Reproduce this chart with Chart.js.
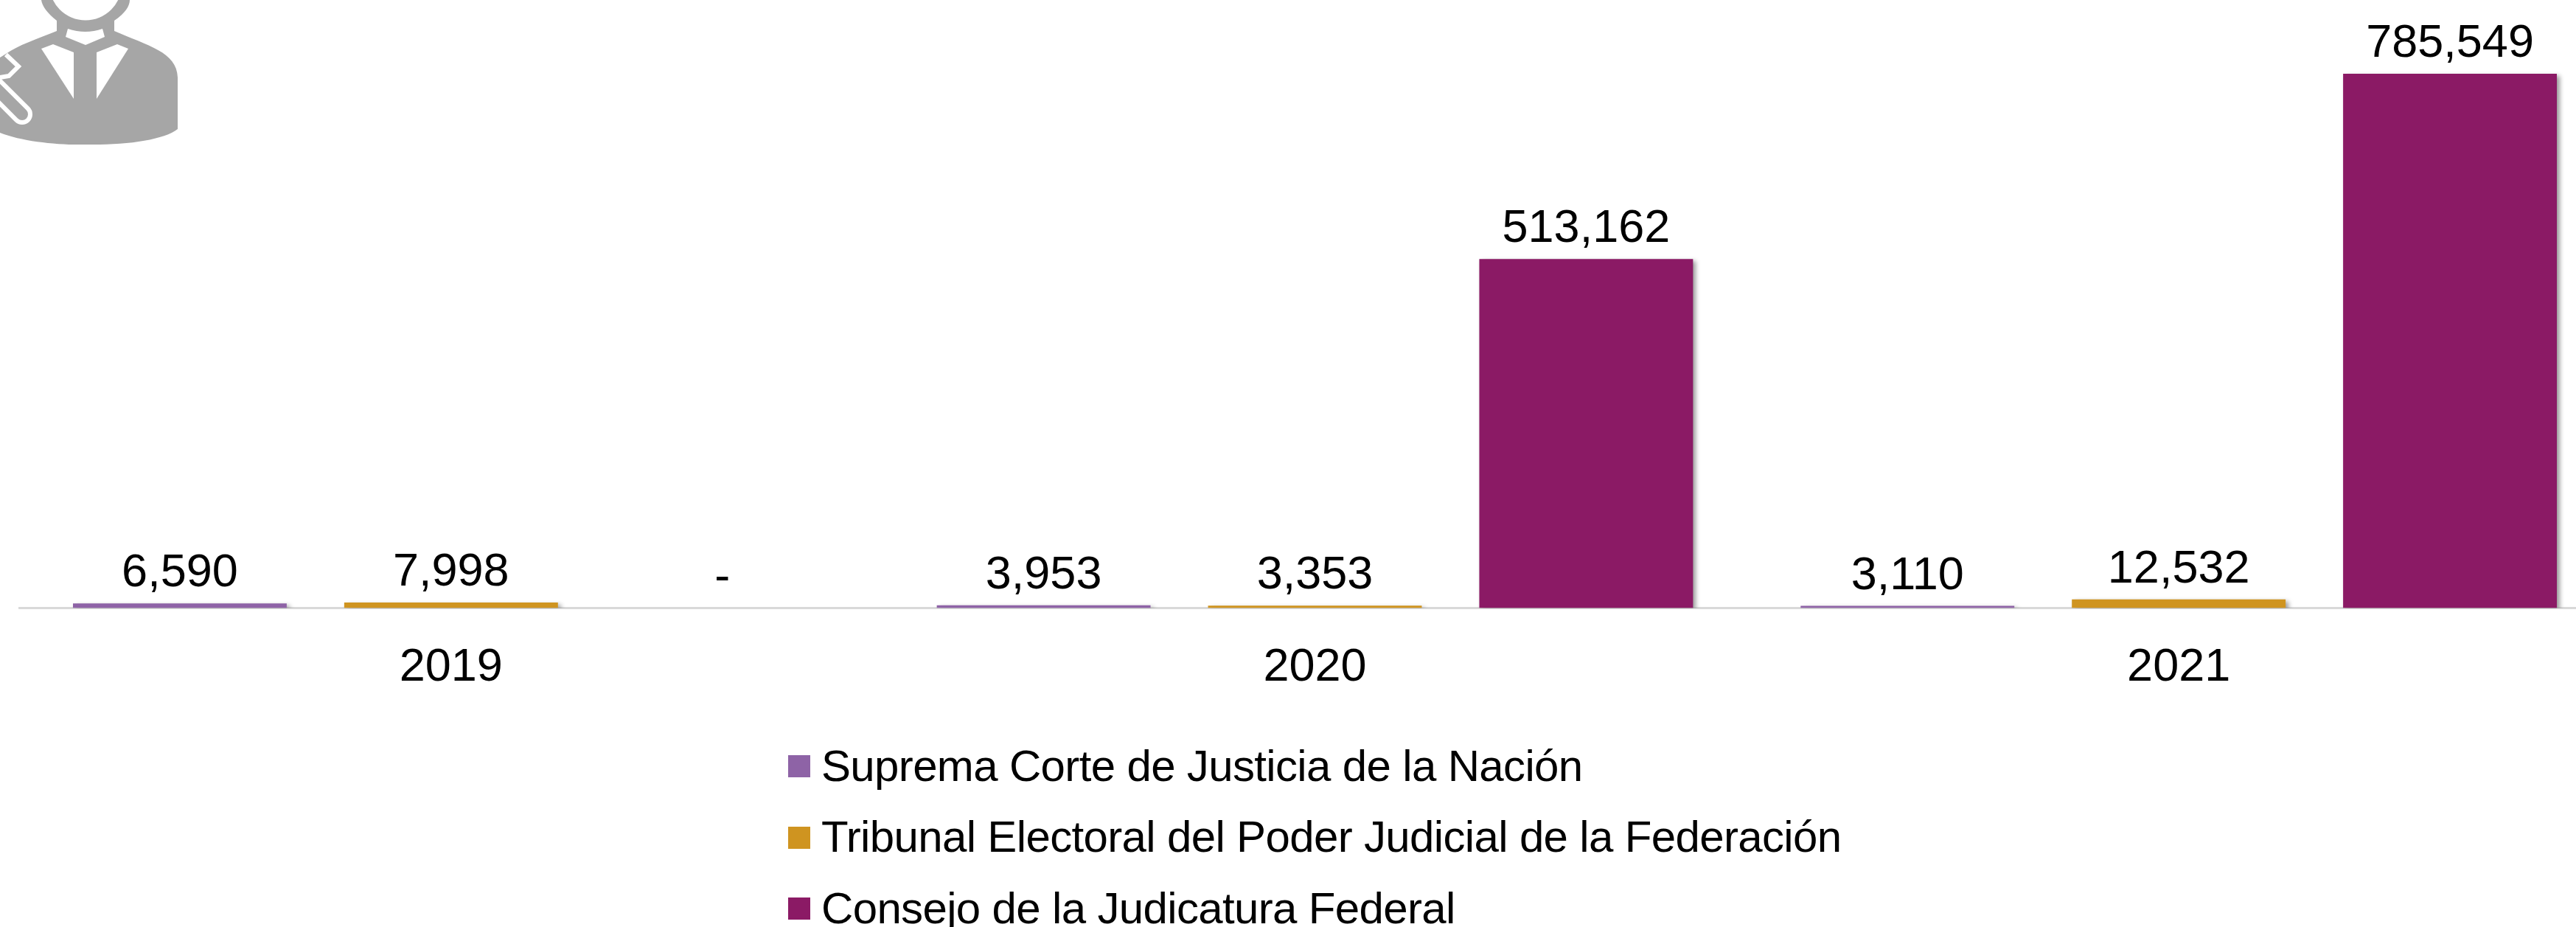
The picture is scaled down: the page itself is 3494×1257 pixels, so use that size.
<!DOCTYPE html>
<html>
<head>
<meta charset="utf-8">
<style>
    html, body { margin: 0; padding: 0; background: #fff; }
    #wrap { position: relative; width: 3494px; height: 1257px; overflow: hidden; font-family: "Liberation Sans", Arial, sans-serif; }
    /* the reference cuts off the right edge of the last category, so the canvas runs past the window */
    #chartBox { position: absolute; left: 0; top: 0; width: 3541px; height: 1257px; }
    #icon { position: absolute; left: 0; top: 0; }
    #legend { position: absolute; left: 1069px; top: 991px; }
    .item { display: flex; align-items: center; height: 96.5px; font-size: 60px; letter-spacing: -0.65px; color: #000; white-space: nowrap; }
    .item i { display: block; width: 30px; height: 30px; margin-right: 15px; }
    .item span { position: relative; top: -1px; }
</style>
</head>
<body>
<div id="wrap">
    <div id="chartBox"><canvas id="myChart" width="3541" height="1257"></canvas></div>
    <svg id="icon" width="260" height="210" viewBox="0 0 260 210">
        <path fill="#a6a6a6" d="M77 28 L77 42 C50 53 25 61 8 73 L0 78 L0 180 C30 192 80 197 116 196 C170 197 222 190 241 175 L241 105 C240 70 200 62 155 42 L155 28 C170 18 176 8 176 0 L56 0 C57 8 64 18 77 28 Z"/>
        <circle cx="116" cy="-22" r="49.4" fill="#fff"/>
        <path fill="#fff" d="M92 39 Q116 47 139 39 L142 50 L116 61 L89 50 Z"/>
        <path fill="#fff" d="M56 66 L72 60 L100 71 L100 134 Z"/>
        <path fill="#fff" d="M174 66 L159 60 L131 71 L131 134 Z"/>
        <path fill="none" stroke="#fff" stroke-width="6" d="M8 74 L25 90 L12 103 L0 105"/>
        <path fill="none" stroke="#fff" stroke-width="28" stroke-linecap="round" d="M-10 115 L30 155"/>
        <path fill="none" stroke="#a6a6a6" stroke-width="16" stroke-linecap="round" d="M-10 115 L30 155"/>
    </svg>
    <div id="legend"></div>
</div>
<script src="https://cdn.jsdelivr.net/npm/chart.js@4"></script>
<script>
const years = ['2019', '2020', '2021'];
const suprema = [6590, 3953, 3110];
const tribunal = [7998, 3353, 12532];
const consejo = [0, 513162, 785549];
const seriesNames = [
    'Suprema Corte de Justicia de la Nación',
    'Tribunal Electoral del Poder Judicial de la Federación',
    'Consejo de la Judicatura Federal'
];
const seriesColors = ['#8e63a6', '#cf9420', '#8b1a65'];

const fontName = '"Liberation Sans", Arial, sans-serif';

// soft shadow behind the bars, like the original
const barShadow = {
    id: 'barShadow',
    beforeDatasetsDraw(chart) {
        const ctx = chart.ctx;
        ctx.save();
        ctx.shadowColor = 'rgba(0, 0, 0, 0.4)';
        ctx.shadowBlur = 6;
        ctx.shadowOffsetX = 4;
        ctx.shadowOffsetY = 3;
    },
    afterDatasetsDraw(chart) {
        chart.ctx.restore();
    }
};

// value above each bar, zero shows as a dash
const valueLabels = {
    id: 'valueLabels',
    afterDraw(chart) {
        const ctx = chart.ctx;
        ctx.save();
        ctx.font = '63px ' + fontName;
        ctx.fillStyle = '#000';
        ctx.textAlign = 'center';
        ctx.textBaseline = 'alphabetic';
        chart.data.datasets.forEach(function (ds, i) {
            chart.getDatasetMeta(i).data.forEach(function (bar, j) {
                const v = ds.data[j];
                const text = v === 0 ? '-' : v.toLocaleString('en-US');
                ctx.fillText(text, bar.x, bar.y - 23);
            });
        });
        ctx.restore();
    }
};

const ctx = document.getElementById('myChart').getContext('2d');
const chart = new Chart(ctx, {
    type: 'bar',
    data: {
        labels: years,
        datasets: [
            { label: seriesNames[0], data: suprema, backgroundColor: seriesColors[0] },
            { label: seriesNames[1], data: tribunal, backgroundColor: seriesColors[1] },
            { label: seriesNames[2], data: consejo, backgroundColor: seriesColors[2] }
        ]
    },
    options: {
        responsive: false,
        animation: false,
        layout: { padding: { left: 26, right: 0, top: 40.6, bottom: 279 } },
        datasets: { bar: { categoryPercentage: 0.942, barPercentage: 0.788 } },
        plugins: {
            legend: { display: false },
            tooltip: { enabled: false }
        },
        scales: {
            x: {
                grid: { display: false },
                border: { color: '#d9d9d9', width: 3 },
                ticks: { color: '#000', font: { size: 63, family: fontName }, padding: 35 }
            },
            y: { display: false, min: 0, max: 850000 }
        }
    },
    plugins: [barShadow, valueLabels]
});

// legend stacked in one left-aligned column
const legendBox = document.getElementById('legend');
chart.data.datasets.forEach(function (ds) {
    const row = document.createElement('div');
    row.className = 'item';
    const box = document.createElement('i');
    box.style.background = ds.backgroundColor;
    const text = document.createElement('span');
    text.textContent = ds.label;
    row.appendChild(box);
    row.appendChild(text);
    legendBox.appendChild(row);
});
</script>
</body>
</html>
